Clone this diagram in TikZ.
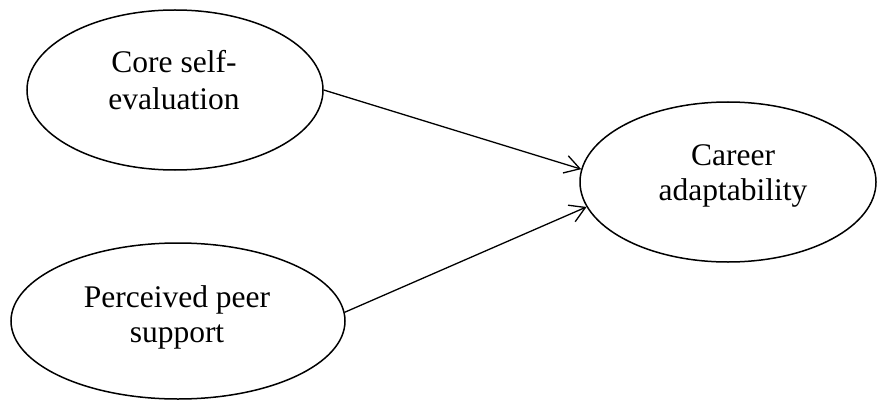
\documentclass[tikz,border=0pt]{standalone}
\usepackage{fontspec}
\setmainfont{Liberation Serif}
\usetikzlibrary{shapes.geometric,arrows.meta}
\tikzset{
  latent/.style={draw=black, line width=1.5pt, ellipse, inner sep=0pt},
  lbl/.style={anchor=base, inner sep=0pt, font=\fontsize{31.5}{37}\selectfont},
  path/.style={draw=black, line width=1.3pt, -{Straight Barb[length=15pt,width=18pt,line width=1.3pt]}}
}
\begin{document}
\begin{tikzpicture}[x=1pt,y=-1pt]
\useasboundingbox (0,0) rectangle (877,401);
\node[latent, minimum width=296pt, minimum height=160pt] (cse) at (175,90) {};
\node[latent, minimum width=334pt, minimum height=156pt] (pps) at (178,321) {};
\node[latent, minimum width=296pt, minimum height=160pt] (ca) at (728,182) {};
\node[lbl] (cse1) at (174,73) {Core self-};
\node[lbl] (cse2) at (174,110) {evaluation};
\node[lbl] (pps1) at (177,307) {Perceived peer};
\node[lbl] (pps2) at (177,342) {support};
\node[lbl] (ca1) at (733,165) {Career};
\node[lbl] (ca2) at (733,200) {adaptability};
\draw[path] (cse.east) -- (ca.175);
\draw[path] (pps.3) -- (ca.190);
\end{tikzpicture}
\end{document}
